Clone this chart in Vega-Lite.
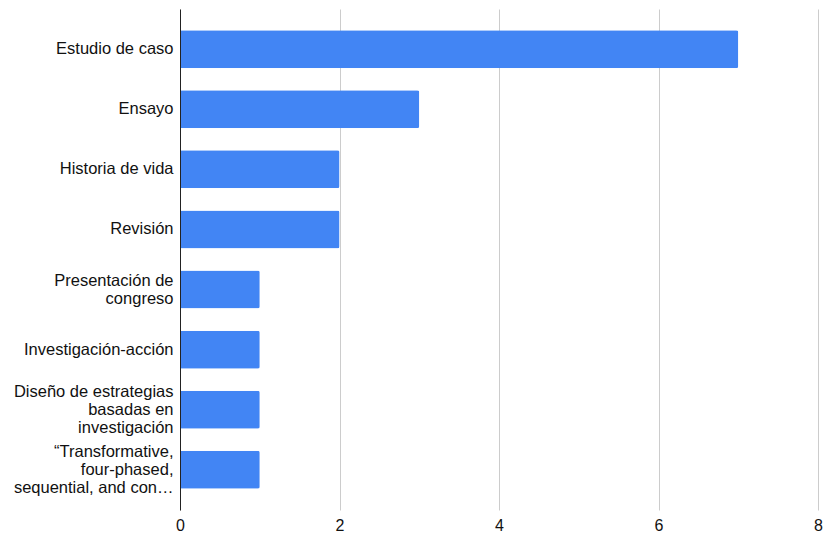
{
  "$schema": "https://vega.github.io/schema/vega-lite/v6.json",
  "autosize": {"type": "none"},
  "padding": {"left": 180, "top": 9, "right": 13, "bottom": 28},
  "width": 638,
  "height": 501,
  "background": "white",
  "data": {
    "values": [
      {"tipo": "Estudio de caso", "n": 7},
      {"tipo": "Ensayo", "n": 3},
      {"tipo": "Historia de vida", "n": 2},
      {"tipo": "Revisión", "n": 2},
      {"tipo": "Presentación de\ncongreso", "n": 1},
      {"tipo": "Investigación-acción", "n": 1},
      {"tipo": "Diseño de estrategias\nbasadas en\ninvestigación", "n": 1},
      {"tipo": "“Transformative,\nfour-phased,\nsequential, and con…", "n": 1}
    ]
  },
  "mark": {"type": "bar", "color": "#4285F4", "cornerRadiusEnd": 2},
  "encoding": {
    "y": {
      "field": "tipo",
      "type": "nominal",
      "sort": null,
      "scale": {"paddingInner": 0.368, "paddingOuter": 0.352},
      "axis": {
        "title": null,
        "ticks": false,
        "domainColor": "#222222",
        "domainWidth": 1,
        "labelFont": "Liberation Sans",
        "labelFontSize": 16.5,
        "labelColor": "#111111",
        "labelPadding": 7,
        "labelLimit": 300,
        "labelLineHeight": 18,
        "labelExpr": "split(datum.label, '\\n')",
        "labelOffset": {"expr": "-(length(split(datum.value, '\\n')) - 1) * 9"},
        "zindex": 1
      }
    },
    "x": {
      "field": "n",
      "type": "quantitative",
      "scale": {"domain": [0, 8], "nice": false},
      "axis": {
        "title": null,
        "values": [0, 2, 4, 6, 8],
        "domain": false,
        "ticks": false,
        "gridColor": "#cccccc",
        "gridWidth": 1,
        "labelFont": "Liberation Sans",
        "labelFontSize": 16,
        "labelColor": "#111111",
        "labelPadding": 7,
        "labelFlush": false
      }
    }
  },
  "config": {"view": {"stroke": null}}
}
